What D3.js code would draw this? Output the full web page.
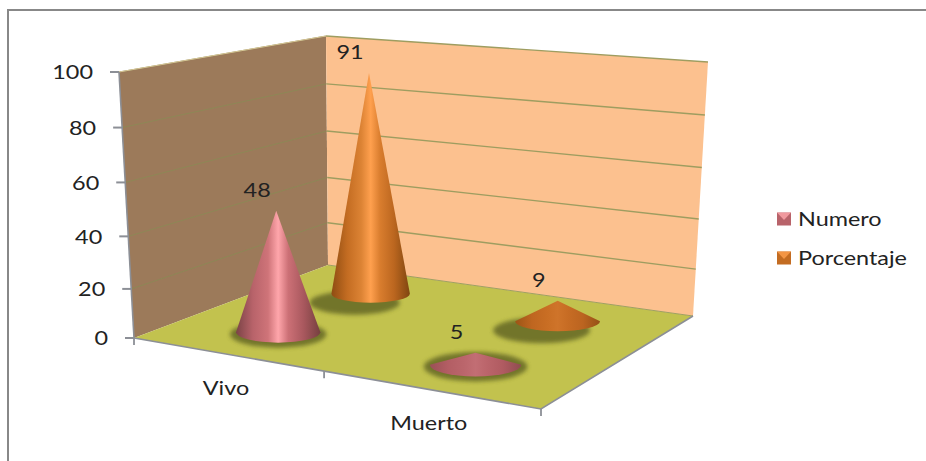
<!DOCTYPE html>
<html>
<head>
<meta charset="utf-8">
<script src="https://cdn.jsdelivr.net/npm/d3@7"></script>
<style>
html,body{margin:0;padding:0;background:#fff;overflow:hidden}
text{font-family:Lato,sans-serif;fill:#222}
</style>
</head>
<body>
<svg id="chart" width="926" height="461"></svg>
<script>
const categories = ["Vivo", "Muerto"];
const seriesNames = ["Numero", "Porcentaje"];
const numero = [48, 5];
const porcentaje = [91, 9];
const valueTicks = [0, 20, 40, 60, 80, 100];

const svg = d3.select("#chart");
const defs = svg.append("defs");

// Corners of the 3D box as they land on screen: (front/right, front/back)
const floorQuad = [[134, 338], [541, 409], [693, 316], [328, 265]];
const topQuad = [[119, 72], [545, 114], [708, 62], [326, 36]];

// Maps the unit square onto a quadrilateral with a projective transform
function homography(q) {
  const [[x0, y0], [x1, y1], [x2, y2], [x3, y3]] = q;
  const dx1 = x1 - x2, dx2 = x3 - x2, sx = x0 - x1 + x2 - x3;
  const dy1 = y1 - y2, dy2 = y3 - y2, sy = y0 - y1 + y2 - y3;
  const den = dx1 * dy2 - dx2 * dy1;
  const g = (sx * dy2 - dx2 * sy) / den;
  const h = (dx1 * sy - sx * dy1) / den;
  const a = x1 - x0 + g * x1, b = x3 - x0 + h * x3;
  const d = y1 - y0 + g * y1, e = y3 - y0 + h * y3;
  return (u, v) => {
    const w = g * u + h * v + 1;
    return [(a * u + b * v + x0) / w, (d * u + e * v + y0) / w];
  };
}
const floorAt = homography(floorQuad);
const topAt = homography(topQuad);

const heightScale = d3.scalePow().exponent(1.05).domain([0, 100]).range([0, 1]);
const catScale = d3.scaleBand().domain(categories).range([0, 1]);
const depthScale = d3.scaleBand().domain(seriesNames).range([0, 1]);

function project(u, v, value) {
  const f = floorAt(u, v), t = topAt(u, v), k = heightScale(value);
  return [f[0] + (t[0] - f[0]) * k, f[1] + (t[1] - f[1]) * k];
}
const line = d3.line();

// Labels use a wide setting of the face, so each one is stretched after measuring
const fontSize = 20;
const widen = 1.17;
function label(x, y, str, anchor = "middle") {
  const t = svg.append("text").attr("x", x).attr("y", y).attr("dy", "0.36em")
    .attr("text-anchor", anchor).attr("font-size", fontSize).text(str);
  t.attr("textLength", t.node().getComputedTextLength() * widen)
    .attr("lengthAdjust", "spacingAndGlyphs");
  return t;
}

// Walls and floor
const polygon = (pts, fill) => svg.append("path").attr("d", line(pts) + "Z").attr("fill", fill);
polygon([project(0, 0, 0), project(0, 0, 100), project(0, 1, 100), project(0, 1, 0)], "#9c7a5a");
polygon([project(0, 1, 0), project(0, 1, 100), project(1, 1, 100), project(1, 1, 0)], "#fcc18f");
polygon([floorAt(0, 0), floorAt(1, 0), floorAt(1, 1), floorAt(0, 1)], "#c2c24e");

// Gridlines across both walls
valueTicks.slice(1).forEach(t => {
  svg.append("path").attr("fill", "none").attr("stroke", "#8b8a55").attr("stroke-width", 1)
    .attr("opacity", 0.85)
    .attr("d", line([project(0, 0, t), project(0, 1, t)]));
  svg.append("path").attr("fill", "none").attr("stroke", "#9e9d60").attr("stroke-width", 1.4)
    .attr("d", line([project(0, 1, t), project(1, 1, t)]));
});
svg.append("path").attr("fill", "none").attr("stroke", "#d8c596").attr("stroke-width", 1)
  .attr("d", line([project(0, 0, 100), project(0, 1, 100)]));
svg.append("path").attr("fill", "none").attr("stroke", "#a09f62").attr("stroke-width", 1)
  .attr("d", line([project(0, 1, 0), project(1, 1, 0)]));

// Gray axis lines and ticks
const axisGray = "#8c8f96";
const axisStroke = (d, w = 1.6) => svg.append("path").attr("fill", "none")
  .attr("stroke", axisGray).attr("stroke-width", w).attr("d", d);
axisStroke(line([project(0, 0, 100), project(0, 0, 0)]));
axisStroke(line([floorAt(0, 0), floorAt(1, 0), floorAt(1, 1)]));

valueTicks.forEach(t => {
  const [x, y] = project(0, 0, t);
  axisStroke(line([[x - 9, y], [x, y]]), 2);
  label(x - 26 - String(t).length * 0, y, t, "end");
});
[0, 0.5, 1].forEach(u => {
  const [x, y] = floorAt(u, 0);
  axisStroke(line([[x, y], [x, y + 7]]), 1.8);
});
categories.forEach(c => {
  const u = catScale(c) + catScale.bandwidth() / 2;
  const [x, y] = floorAt(u, 0);
  label(x, y + 33.5, c);
});

// Cone shading, tall and flat variants for each series
const palette = {
  Numero: {
    tall: ["#7b4346", "#b8636a", "#cf7479", "#ffa6ab", "#cc7076", "#a9585e", "#75403f"],
    flat: ["#9a5056", "#b35e64", "#bb666c", "#c26e74", "#bb656b", "#b05b61", "#8f4c50"]
  },
  Porcentaje: {
    tall: ["#8e4c12", "#c36c22", "#dc8334", "#ffa04e", "#d97d2e", "#bb661f", "#7f4610"],
    flat: ["#9c5516", "#bf6620", "#c96e24", "#cf742a", "#c76c24", "#bb6420", "#945016"]
  }
};
const stopOffsets = [0, 0.2, 0.38, 0.5, 0.62, 0.8, 1];
seriesNames.forEach(s => ["tall", "flat"].forEach(kind => {
  const g = defs.append("linearGradient").attr("id", `${s}-${kind}`);
  palette[s][kind].forEach((col, i) =>
    g.append("stop").attr("offset", stopOffsets[i]).attr("stop-color", col));
}));
defs.append("filter").attr("id", "soft").attr("x", "-30%").attr("y", "-50%")
  .attr("width", "160%").attr("height", "200%")
  .append("feGaussianBlur").attr("stdDeviation", 2.2);

const seriesValues = { Numero: numero, Porcentaje: porcentaje };
const baseRadius = 0.1;
// Cones stand closer to upright than the walls do
const coneLean = 0.35;
// Back row casts its shadow further toward the lower left
const shadowShift = { Numero: [0, 2], Porcentaje: [-16, 9] };
const flatBelow = 20;

// Draw from the back row to the front so nearer cones overlap further ones
seriesNames.slice().reverse().forEach(s => {
  const v = depthScale(s) + depthScale.bandwidth() / 2;
  categories.forEach((c, i) => {
    const u = catScale(c) + catScale.bandwidth() / 2;
    const value = seriesValues[s][i];
    const base = floorAt(u, v);
    // Screen extents of the round base come from the local floor derivatives
    const e = 0.01;
    const fu = floorAt(u + e, v), fv = floorAt(u, v + e);
    const rx = Math.hypot(fu[0] - base[0], fv[0] - base[0]) / e * baseRadius;
    const ry = Math.hypot(fu[1] - base[1], fv[1] - base[1]) / e * baseRadius;
    const top = project(u, v, value);
    const apex = [base[0] + (top[0] - base[0]) * coneLean, top[1]];
    const [sx, sy] = shadowShift[s];

    svg.append("ellipse").attr("cx", base[0] + sx).attr("cy", base[1] + sy)
      .attr("rx", rx + 6).attr("ry", ry + 3).attr("fill", "#5f6222")
      .attr("opacity", 0.8).attr("filter", "url(#soft)");

    const kind = value < flatBelow ? "flat" : "tall";
    svg.append("path").attr("fill", `url(#${s}-${kind})`)
      .attr("d", `M${apex[0]},${apex[1]}L${base[0] - rx},${base[1]}` +
        `A${rx},${ry} 0 0 0 ${base[0] + rx},${base[1]}Z`);

    label(apex[0] - 19, apex[1] - 21, value);
  });
});

// Legend
const legendTop = d3.scalePoint().domain(seriesNames).range([219, 258]);
seriesNames.forEach(s => {
  const y = legendTop(s), tall = palette[s].tall;
  svg.append("rect").attr("x", 777).attr("y", y - 6.5).attr("width", 14).attr("height", 13)
    .attr("fill", tall[1]);
  svg.append("path").attr("fill", tall[3]).attr("opacity", 0.8)
    .attr("d", line([[777, y - 6.5], [791, y - 6.5], [784, y + 1]]) + "Z");
  label(798, y, s, "start");
});

// Outer frame: only the top and left edges fall inside the view
svg.append("path").attr("fill", "none").attr("stroke", "#888").attr("stroke-width", 2)
  .attr("d", line([[8, 461], [8, 10], [926, 10]]));
</script>
</body>
</html>
